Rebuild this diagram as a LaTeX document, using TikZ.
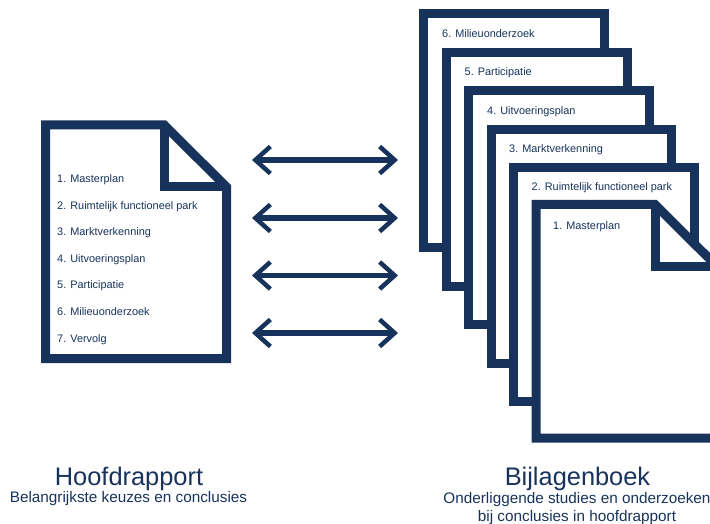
\documentclass[tikz,border=0pt]{standalone}
\usepackage{fontspec}
\setmainfont{Liberation Sans}
\usetikzlibrary{arrows.meta}
\definecolor{navy}{HTML}{17335C}
\tikzset{
  sheet/.style={draw=navy,line width=9pt,fill=white,miter limit=10},
  itemlabel/.style={text=navy,font=\fontsize{10.9}{13}\selectfont,anchor=base west,inner sep=0pt},
  titlelabel/.style={text=navy,font=\fontsize{25.4}{30}\selectfont,anchor=base,inner sep=0pt},
  sublabel/.style={text=navy,font=\fontsize{15.3}{18}\selectfont,anchor=base,inner sep=0pt},
  link/.style={draw=navy,line width=5.5pt,{Straight Barb[length=15pt,width=27pt,line width=4.5pt,line cap=butt]}-{Straight Barb[length=15pt,width=27pt,line width=4.5pt,line cap=butt]}},
}
\newcommand{\foldsheet}[2]{%
  \begin{scope}[shift={(#1,#2)}]
    \draw[sheet] (45.5,125) -- (164.2,125) -- (226.5,187) -- (226.5,358.5) -- (45.5,358.5) -- cycle;
    \draw[draw=navy,line width=9pt,miter limit=10] (164.5,128) -- (164.5,186.5) -- (224,186.5);
  \end{scope}}
\begin{document}
\begin{tikzpicture}[x=1pt,y=-1pt]
\useasboundingbox (0,0) rectangle (710,524);
\clip (0,0) rectangle (710,524);
% left document
\foldsheet{0}{0}
\node[itemlabel] (l1) at (57,182.7) {1. Masterplan};
\node[itemlabel] (l2) at (57,209.5) {2. Ruimtelijk functioneel park};
\node[itemlabel] (l3) at (57,235.7) {3. Marktverkenning};
\node[itemlabel] (l4) at (57,262.5) {4. Uitvoeringsplan};
\node[itemlabel] (l5) at (57,288.7) {5. Participatie};
\node[itemlabel] (l6) at (57,315.5) {6. Milieuonderzoek};
\node[itemlabel] (l7) at (57,342.5) {7. Vervolg};
% arrows
\coordinate (a1l) at (252,160); \coordinate (a1r) at (398,160);
\coordinate (a2l) at (252,218); \coordinate (a2r) at (398,218);
\coordinate (a3l) at (252,275.5); \coordinate (a3r) at (398,275.5);
\coordinate (a4l) at (252,333); \coordinate (a4r) at (398,333);
\draw[link] (a1l) -- (a1r);
\draw[link] (a2l) -- (a2r);
\draw[link] (a3l) -- (a3r);
\draw[link] (a4l) -- (a4r);
% stack
\draw[sheet] (423.8,13.8) rectangle (604.8,247.8);
\node[itemlabel] (r6) at (442,37.5) {6. Milieuonderzoek};
\draw[sheet] (446.5,52.2) rectangle (627.2,286.5);
\node[itemlabel] (r5) at (464.5,75.5) {5. Participatie};
\draw[sheet] (468.8,90.8) rectangle (649.5,324.8);
\node[itemlabel] (r4) at (487,114.5) {4. Uitvoeringsplan};
\draw[sheet] (491.2,129.5) rectangle (671.8,363.2);
\node[itemlabel] (r3) at (509,152.5) {3. Marktverkenning};
\draw[sheet] (513.5,167.8) rectangle (694.2,401.5);
\node[itemlabel] (r2) at (531.5,190.5) {2. Ruimtelijk functioneel park};
\foldsheet{490.7}{79.5}
\node[itemlabel] (r1) at (553,229.5) {1. Masterplan};
% captions
\node[titlelabel] (t1) at (129,485.3) {Hoofdrapport};
\node[sublabel] (s1) at (128.5,502) {Belangrijkste keuzes en conclusies};
\node[titlelabel] (t2) at (577.5,485.3) {Bijlagenboek};
\node[sublabel] (s2) at (577,503) {Onderliggende studies en onderzoeken};
\node[sublabel] (s3) at (577,521) {bij conclusies in hoofdrapport};
\end{tikzpicture}
\end{document}
